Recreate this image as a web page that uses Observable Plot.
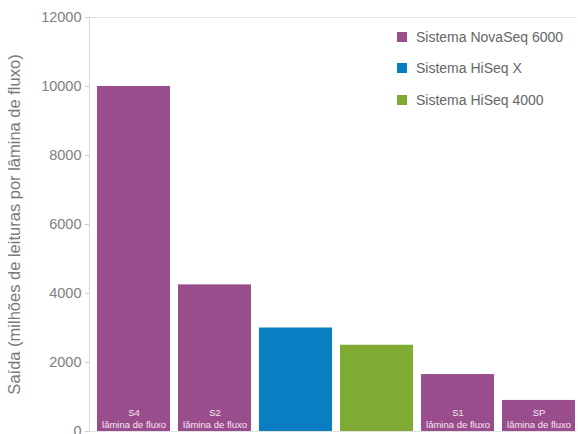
<!DOCTYPE html>
<html>
<head>
<meta charset="utf-8">
<script src="https://cdn.jsdelivr.net/npm/d3@7"></script>
<script src="https://cdn.jsdelivr.net/npm/@observablehq/plot@0.6"></script>
<style>
  html, body { margin: 0; padding: 0; background: #fff; }
  #wrap { position: relative; width: 578px; height: 434px; font-family: "Liberation Sans", Arial, sans-serif; }
  #legend { position: absolute; left: 397px; top: 21px; font-size: 14px; color: #666; }
  #legend .row { display: flex; align-items: center; height: 31.5px; }
  #legend .sw { width: 10px; height: 10px; margin-right: 9px; }
</style>
</head>
<body>
<div id="wrap"></div>
<script>
const categories = ["S4", "S2", "HiSeq X", "HiSeq 4000", "S1", "SP"];
const systems = ["Sistema NovaSeq 6000", "Sistema NovaSeq 6000", "Sistema HiSeq X", "Sistema HiSeq 4000", "Sistema NovaSeq 6000", "Sistema NovaSeq 6000"];
const values = [10000, 4250, 3000, 2500, 1650, 900];
const barLabels = ["S4\nlâmina de fluxo", "S2\nlâmina de fluxo", "", "", "S1\nlâmina de fluxo", "SP\nlâmina de fluxo"];
const legendNames = ["Sistema NovaSeq 6000", "Sistema HiSeq X", "Sistema HiSeq 4000"];
const legendColors = ["#9a4d8c", "#0a7ec3", "#7fab35"];
const yTicks = [0, 2000, 4000, 6000, 8000, 10000, 12000];
const yLabel = "Saída (milhões de leituras por lâmina de fluxo)";

const data = categories.map((c, i) => ({cat: c, system: systems[i], value: values[i], label: barLabels[i]}));

const chart = Plot.plot({
  width: 578,
  height: 434,
  marginLeft: 89,
  marginRight: 1,
  marginTop: 17,
  marginBottom: 3,
  style: {fontFamily: "Liberation Sans, Arial, sans-serif", background: "#fff"},
  x: {domain: categories, range: [95, 576.5], paddingInner: 0.1, paddingOuter: 0, axis: null},
  y: {domain: [0, 12000], label: null, axis: null},
  color: {domain: legendNames, range: legendColors},
  marks: [
    Plot.ruleY([12000], {stroke: "#e2e2e2"}),
    Plot.ruleY([0], {stroke: "#e2e2e2"}),
    Plot.frame({anchor: "left", stroke: "#d8d8d8"}),
    Plot.barY(data, {x: "cat", y: "value", fill: "system"}),
    Plot.text(data, {x: "cat", y: 0, text: "label", fill: "#f6e6f3", fontSize: 9.5, lineAnchor: "bottom", dy: -4, lineHeight: 1.25}),
    Plot.axisY({ticks: yTicks, tickFormat: d => String(d), tickSize: 4, tickPadding: 4, fontSize: 14.5, color: "#808080", stroke: "#ccc", label: null}),
    Plot.axisY({ticks: [], label: yLabel, labelArrow: "none", labelAnchor: "center", labelOffset: 81, fontSize: 16.5, color: "#7a7a7a"})
  ]
});

const wrap = document.getElementById("wrap");
wrap.appendChild(chart);

const legend = document.createElement("div");
legend.id = "legend";
legendNames.forEach((n, i) => {
  const row = document.createElement("div");
  row.className = "row";
  const sw = document.createElement("div");
  sw.className = "sw";
  sw.style.background = legendColors[i];
  const t = document.createElement("span");
  t.textContent = n;
  row.appendChild(sw);
  row.appendChild(t);
  legend.appendChild(row);
});
wrap.appendChild(legend);
</script>
</body>
</html>
